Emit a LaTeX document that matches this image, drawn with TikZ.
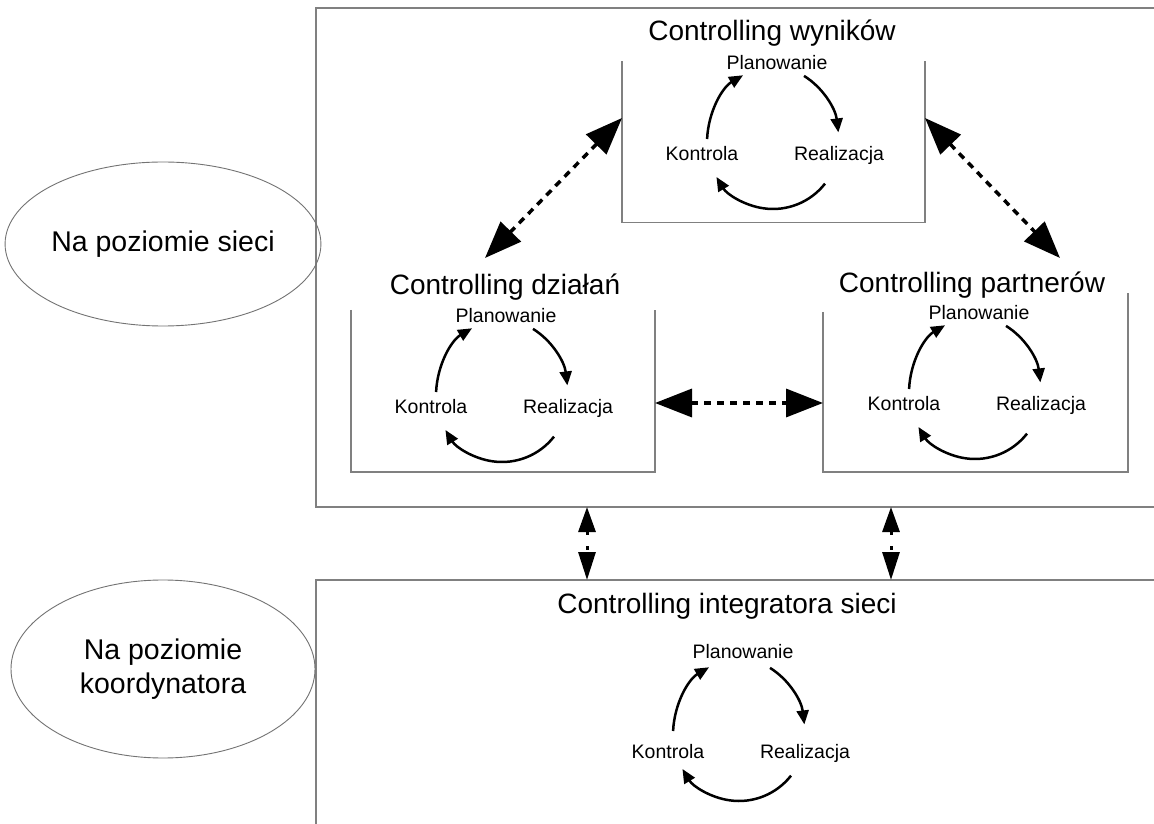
\documentclass[tikz,border=0pt]{standalone}
\usepackage{fontspec}
\setmainfont{Liberation Sans}
\usetikzlibrary{arrows.meta,shapes.geometric}
\newcommand{\pdcacycle}[5]{%
  \coordinate (#1c) at (#2,#3);
  \node[lbl] (#1P) at ([shift={(4,#4)}]#1c) {Planowanie};
  \node[lbl] (#1K) at ([shift={(-71,#5)}]#1c) {Kontrola};
  \node[lbl] (#1R) at ([shift={(66,#5)}]#1c) {Realizacja};
  \draw[cyc] ([shift={(62:66pt and 76pt)}]#1c) arc[start angle=62,end angle=8,x radius=66pt,y radius=76pt];
  \draw[cyc] ([shift={(-38:66pt)}]#1c) arc[start angle=-38,end angle=-149,radius=66pt];
  \draw[cyc] ([shift={(177:66pt and 76pt)}]#1c) arc[start angle=177,end angle=117,x radius=66pt,y radius=76pt];
}
\begin{document}
\begin{tikzpicture}[x=1pt,y=1pt,
  frame/.style={draw=black!50, line width=1.2pt},
  title/.style={font=\fontsize{28}{33}\selectfont, inner sep=1pt},
  lbl/.style={font=\fontsize{19.5}{23}\selectfont, inner sep=0pt, text height=14pt, text depth=4pt},
  oval/.style={ellipse, draw=black!55, line width=0.9pt, font=\fontsize{28.5}{34}\selectfont, align=center, inner sep=0pt},
  area/.style={rectangle, draw=none, inner sep=0pt, outer sep=0pt},
  cyc/.style={line width=2.5pt, -{Triangle[length=14pt,width=12pt]}},
  dbl/.style={line width=3.5pt, dash pattern=on 7pt off 6pt, {Triangle[length=37pt,width=28pt]}-{Triangle[length=37pt,width=28pt]}},
  vdbl/.style={line width=3pt, dash pattern=on 4pt off 11pt, {Triangle[length=25pt,width=17pt]}-{Triangle[length=28pt,width=17pt]}}
]
\useasboundingbox (0,0) rectangle (1154,823);
\fill[white] (0,0) rectangle (1154,823);

% outer areas
\node[area, minimum width=839pt, minimum height=499pt] (netB) at (735.5,565.5) {};
\node[area, minimum width=839pt, minimum height=253pt] (korB) at (735.5,116.5) {};
\draw[frame] (netB.north east) -- (netB.north west) -- (netB.south west) -- (netB.south east);
\draw[frame] (korB.north east) -- (korB.north west) -- (korB.south west);

% level ellipses
\node[oval, minimum width=304pt, minimum height=164pt] (e1) at (163,579) {Na poziomie sieci};
\node[oval, minimum width=304pt, minimum height=178pt] (e2) at (163,154) {Na poziomie\\koordynatora};

% inner boxes
\node[area, minimum width=303pt, minimum height=161pt] (wynB) at (773.5,681) {};
\node[area, minimum width=304pt, minimum height=162pt] (dzB) at (503,432) {};
\node[area, minimum width=305pt, minimum height=160pt] (paB) at (975.5,431) {};
\draw[frame] (wynB.north west) -- (wynB.south west) -- (wynB.south east) -- (wynB.north east);
\draw[frame] (dzB.north west) -- (dzB.south west) -- (dzB.south east) -- (dzB.north east);
\draw[frame] (paB.north west) -- (paB.south west) -- (paB.south east) -- ([yshift=19pt]paB.north east);

% titles
\node[title] (wynT) at (772,790) {Controlling wyników};
\node[title] (dzT) at (505,536) {Controlling działań};
\node[title] (paT) at (972,538) {Controlling partnerów};
\node[title] (intT) at (727,217) {Controlling integratora sieci};

% cycles
\pdcacycle{w}{773}{680}{78}{-13}
\pdcacycle{d}{502}{427}{78}{-13}
\pdcacycle{p}{975}{430}{78}{-13}
\pdcacycle{i}{739}{88}{82}{-18}

% dashed double arrows
\draw[dbl] ([yshift=24pt]wynB.west) -- ([xshift=-20pt,yshift=29pt]dzT.center);
\draw[dbl] ([yshift=24pt]wynB.east) -- ([xshift=88pt,yshift=27pt]paT.center);
\draw[dbl] ([yshift=-12pt]dzB.east) -- ([yshift=-11pt]paB.west);
\draw[vdbl] ([xshift=-148.5pt]netB.south) -- ([xshift=-148.5pt]korB.north);
\draw[vdbl] ([xshift=155.5pt]netB.south) -- ([xshift=155.5pt]korB.north);
\end{tikzpicture}
\end{document}
